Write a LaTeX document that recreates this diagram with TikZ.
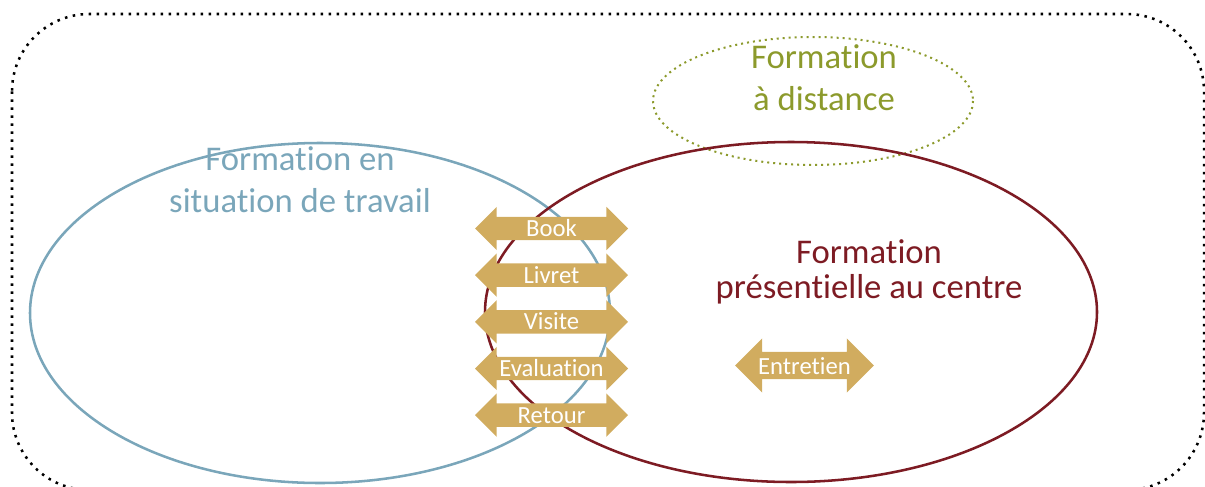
\documentclass[tikz,border=0pt]{standalone}
\usepackage{fontspec}
\setmainfont{Carlito}[Ligatures=NoCommon]
\usetikzlibrary{positioning,shapes.arrows}
\definecolor{bleuform}{RGB}{122,166,186}
\definecolor{rougeform}{RGB}{125,27,35}
\definecolor{vertform}{RGB}{140,154,44}
\definecolor{orform}{RGB}{209,172,95}

\begin{document}
\begin{tikzpicture}[x=0.75pt,y=-0.75pt,node distance=35pt,
  cadre/.style={draw=black,line width=1.9pt,dash pattern=on 1.9pt off 4.1pt,rounded corners=58pt},
  zone/.style={line width=1.9pt},
  titre/.style={align=center,inner sep=0pt,anchor=base,font=\fontsize{26}{31.5}\selectfont},
  fleche/.style={double arrow,fill=orform,text=white,inner xsep=0pt,inner ysep=0pt,
    text height=14.7pt,text depth=2.5pt,minimum height=114.75pt,
    double arrow head extend=7.5pt,font=\fontsize{18.5}{20}\selectfont}]
\useasboundingbox (0,0) rectangle (1205,486);
\draw[cadre] (12,14) rectangle (1204,490);
% les trois zones
\draw[zone,draw=bleuform] (320,313) ellipse [x radius=290, y radius=170];
\draw[line width=1.5pt,draw=vertform,dash pattern=on 1.5pt off 3pt] (813,101) ellipse [x radius=160, y radius=64];
\draw[zone,draw=rougeform] (791,312) ellipse [x radius=306, y radius=170];
\node[titre,text=bleuform] (travail) at (300,212) {Formation en\\situation de travail};
\node[titre,text=vertform] (distance) at (824,110) {Formation\\à distance};
\node[titre,text=rougeform,font=\fontsize{26}{26}\selectfont] (centre) at (869,298) {Formation\\présentielle au centre};
% outils
\node[fleche] (book) at (551.5,228.5) {Book};
\node[fleche,on grid,below=of book] (livret) {Livret};
\node[fleche,on grid,below=of livret] (visite) {Visite};
\node[fleche,on grid,below=of visite] (evaluation) {Evaluation};
\node[fleche,on grid,below=of evaluation] (retour) {Retour};
\node[fleche,text height=17.2pt,text depth=3pt,minimum height=104pt,double arrow head extend=10pt] (entretien) at (804.5,365.5) {Entretien};
\end{tikzpicture}
\end{document}
